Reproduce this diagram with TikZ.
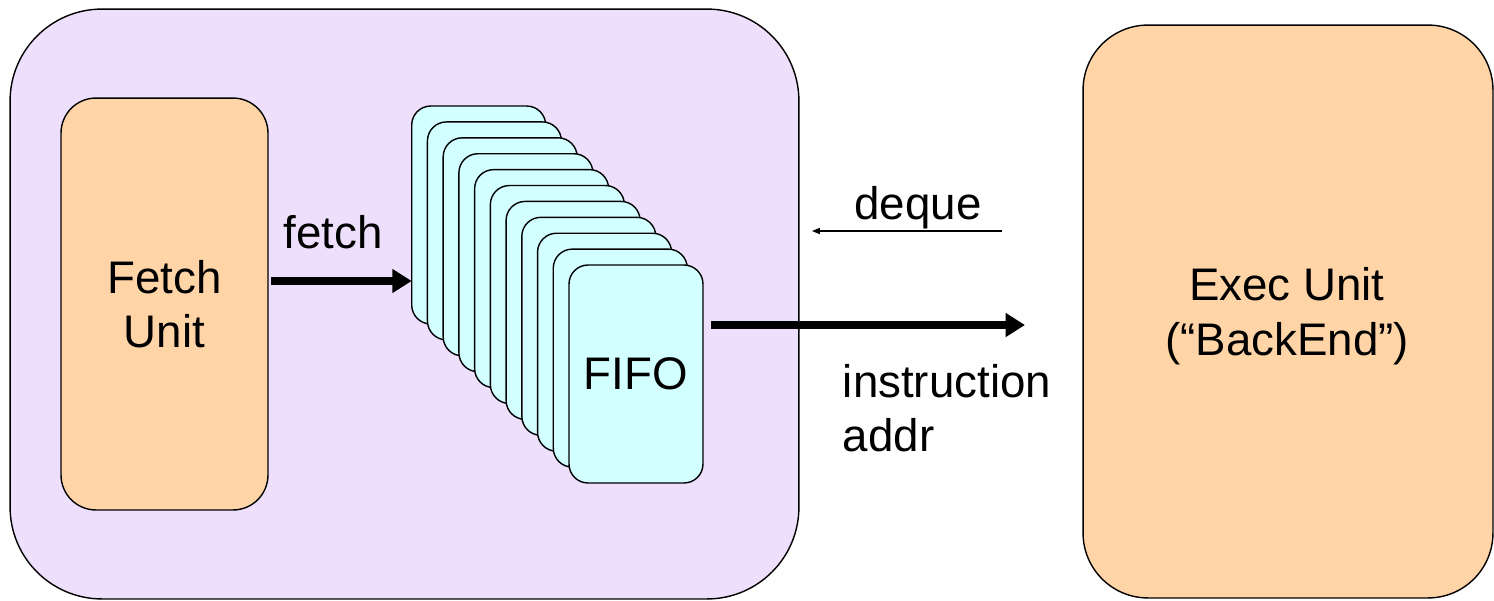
\documentclass[tikz,border=0pt]{standalone}
\usepackage{fontspec}
\setmainfont{Liberation Sans}
\usetikzlibrary{arrows.meta}
\definecolor{lav}{RGB}{238,224,252}
\definecolor{peach}{RGB}{255,213,168}
\definecolor{cyanl}{RGB}{210,255,255}
\tikzset{
  box/.style={draw=black, line width=0.8pt, inner sep=0pt, outer sep=0pt},
  card/.style={box, fill=cyanl, minimum width=2.68cm, minimum height=4.36cm, rounded corners=0.38cm},
  lbl/.style={font=\fontsize{26}{31}\selectfont, inner sep=0pt},
  bigarrow/.style={line width=4pt, -{Triangle[length=11pt,width=13pt]}},
  thinarrow/.style={line width=0.6pt, -{Triangle[length=4.5pt,width=3.5pt]}}
}
\begin{document}
\begin{tikzpicture}[x=0.02cm, y=-0.02cm]
\useasboundingbox (0,0) rectangle (1494,600);
% outer front-end box
\node[box, fill=lav, minimum width=15.78cm, minimum height=11.8cm, rounded corners=1.84cm] (fe) at (404.5,304) {};
% fetch unit
\node[box, fill=peach, minimum width=4.14cm, minimum height=8.24cm, rounded corners=0.7cm, lbl, align=center] (fetch) at (164.5,304) {Fetch\\Unit};
% FIFO cards
\foreach \i in {0,...,9} {
  \node[card] (c\i) at ({478.7+15.73*\i},{215+15.9*\i}) {};
}
\node[card, lbl] (c10) at (636,374) {FIFO};
% exec unit
\node[box, fill=peach, minimum width=8.2cm, minimum height=11.46cm, rounded corners=1.3cm] (exec) at (1288,311.5) {};
\node[lbl, align=center] (execlbl) at (1287,316) {Exec Unit\\(“BackEnd”)};
% arrows
\coordinate (fy) at (0,281);
\draw[bigarrow, shorten <=2pt] (fetch.east |- fy) -- (c0.west |- fy);
\node[lbl] (fetchlbl) at (333,232) {fetch};
\coordinate (iy) at (0,325);
\coordinate (instrEnd) at (1025,325);
\draw[bigarrow, shorten <=4.5pt] (c10.east |- iy) -- (instrEnd);
\coordinate (dqStart) at (1002,231);
\coordinate (dqEnd) at (812,231);
\draw[thinarrow] (dqStart) -- (dqEnd);
\node[lbl] (dequelbl) at (918,208) {deque};
\node[lbl, align=left] (instrlbl) at (947,408) {instruction\\addr};
\end{tikzpicture}
\end{document}
